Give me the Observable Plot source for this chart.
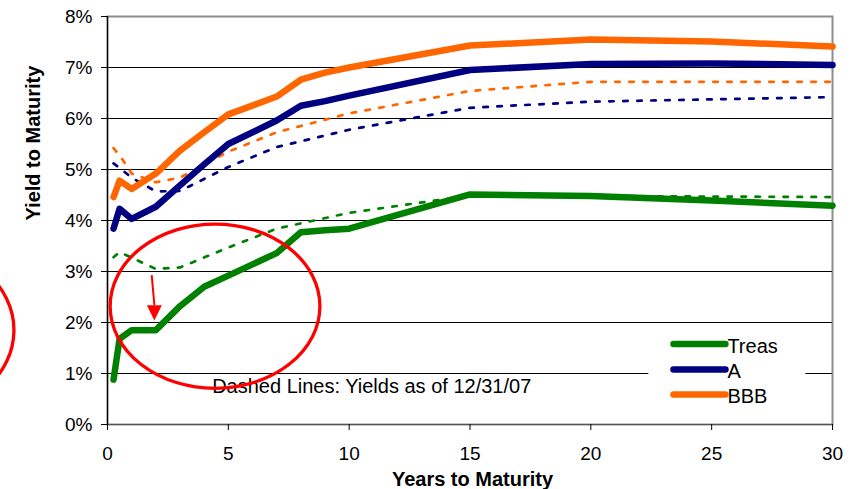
<!DOCTYPE html>
<html>
<head>
<meta charset="utf-8">
<script src="https://cdn.jsdelivr.net/npm/d3@7"></script>
<script src="https://cdn.jsdelivr.net/npm/@observablehq/plot@0.6"></script>
<style>
  html, body { margin: 0; padding: 0; background: #fff; }
</style>
</head>
<body>
<script>
// ---- Data ----
const seriesNames = ["Treas", "A", "BBB"];
const seriesColors = ["#008000", "#000080", "#FF6600"];

// current yields (solid)
const solidYears = [0.25, 0.5, 1, 2, 3, 4, 5, 7, 8, 9, 10, 15, 20, 25, 30];
const treasNow = [0.88, 1.68, 1.85, 1.85, 2.32, 2.70, 2.92, 3.36, 3.77, 3.81, 3.84, 4.51, 4.48, 4.39, 4.29];
const aNow     = [3.84, 4.23, 4.03, 4.27, 4.69, 5.10, 5.50, 5.96, 6.25, 6.34, 6.45, 6.95, 7.07, 7.08, 7.05];
const bbbNow   = [4.46, 4.78, 4.62, 4.92, 5.37, 5.73, 6.08, 6.43, 6.76, 6.90, 7.00, 7.43, 7.55, 7.51, 7.41];

// yields as of 12/31/07 (dashed)
const dashYears = [0.25, 0.5, 1, 2, 3, 5, 7, 10, 15, 20, 30];
const treas07 = [3.28, 3.38, 3.27, 3.05, 3.08, 3.47, 3.84, 4.15, 4.49, 4.48, 4.46];
const a07     = [5.12, 5.03, 4.84, 4.57, 4.58, 5.05, 5.44, 5.78, 6.21, 6.33, 6.42];
const bbb07   = [5.42, 5.28, 4.92, 4.75, 4.84, 5.35, 5.73, 6.10, 6.54, 6.72, 6.72];

const xTicks = [0, 5, 10, 15, 20, 25, 30];
const yTicks = [0, 1, 2, 3, 4, 5, 6, 7, 8];
const yTickLabels = ["0%", "1%", "2%", "3%", "4%", "5%", "6%", "7%", "8%"];

const xTitle = "Years to Maturity";
const yTitle = "Yield to Maturity";
const noteText = "Dashed Lines: Yields as of 12/31/07";

// annotation anchors (data units)
const notePos = {x: 4.33, y: 0.62};
const legendBox = {x1: 22.4, x2: 28.9, y1: 0.22, y2: 1.85};
const legendLineX = [23.42, 25.57];
const legendY = [1.58, 1.08, 0.59];
const legendTextX = 25.65;
const ellipses = [
  {cx: 4.47, cy: 2.31, rx: 4.34, ry: 1.61},
  {cx: -8.19, cy: 1.84, rx: 4.34, ry: 1.67}
];
const arrowPts = {x1: 1.85, y1: 2.92, x2: 1.96, y2: 2.03, headBase: 2.33, headHalfW: 0.31};

// ---- Build tables ----
const solidSets = [treasNow, aNow, bbbNow];
const dashSets = [treas07, a07, bbb07];
const solid = [], dashed = [];
seriesNames.forEach((name, i) => {
  solidYears.forEach((yr, j) => solid.push({series: name, years: yr, yld: solidSets[i][j]}));
  dashYears.forEach((yr, j) => dashed.push({series: name, years: yr, yld: dashSets[i][j]}));
});
const legendRows = seriesNames.map((name, i) => ({name, color: seriesColors[i], y: legendY[i]}));

const marks = [
  Plot.frame({stroke: "#8c8c8c", strokeWidth: 2}),
  Plot.ruleY(yTicks.slice(1, -1), {stroke: "#000", strokeWidth: 1}),
  Plot.rect([legendBox], {x1: "x1", x2: "x2", y1: "y1", y2: "y2", fill: "white"}),
  Plot.ruleX([0], {stroke: "#000", strokeWidth: 1.2}),
  Plot.ruleY([0], {stroke: "#555", strokeWidth: 1.2}),
  Plot.axisX({ticks: xTicks, tickSize: 6, tickPadding: 16, label: null, fontSize: 19}),
  Plot.axisY({ticks: yTicks, tickSize: 6, tickPadding: 9, label: null, fontSize: 19,
              tickFormat: d => yTickLabels[yTicks.indexOf(d)]}),
  ...seriesNames.map((name, i) =>
    Plot.line(dashed.filter(d => d.series === name), {
      x: "years", y: "yld", stroke: seriesColors[i], strokeWidth: 2.7,
      strokeDasharray: "4.5,9.5"
    })),
  ...seriesNames.map((name, i) =>
    Plot.line(solid.filter(d => d.series === name), {
      x: "years", y: "yld", stroke: seriesColors[i], strokeWidth: 6.5,
      strokeLinejoin: "round"
    })),
  Plot.text([noteText], {x: notePos.x, y: notePos.y, text: d => d, textAnchor: "start",
    lineAnchor: "bottom", fontSize: 20, fill: "#000"}),
  Plot.link(legendRows, {x1: legendLineX[0], x2: legendLineX[1], y1: "y", y2: "y",
    stroke: "color", strokeWidth: 6.5, strokeLinecap: "round"}),
  Plot.text(legendRows, {x: legendTextX, y: "y", text: "name", textAnchor: "start",
    lineAnchor: "middle", dy: 2.5, fontSize: 20, fill: "#000"}),
  Plot.text([xTitle], {frameAnchor: "bottom", text: d => d, dy: 61.7, dx: 2.5,
    lineAnchor: "bottom", fontSize: 20, fontWeight: "bold", fill: "#000"}),
  Plot.text([yTitle], {frameAnchor: "left", text: d => d, dx: -68, rotate: -90,
    lineAnchor: "bottom", fontSize: 20, fontWeight: "bold", fill: "#000"})
];

const svg = Plot.plot({
  width: 856, height: 489,
  marginLeft: 107, marginRight: 24, marginTop: 16, marginBottom: 65,
  x: {domain: [0, 30]},
  y: {domain: [0, 8]},
  style: {fontFamily: "'Liberation Sans', Arial, sans-serif", fontSize: "19px", background: "white", color: "#000", overflow: "hidden"},
  marks
});
document.body.append(svg);

// ---- Red annotations drawn through the plot's scales ----
const sx = svg.scale("x"), sy = svg.scale("y");
const X = v => sx.apply(v), Y = v => sy.apply(v);
const g = d3.select(svg).append("g").attr("fill", "none").attr("stroke", "#FF0000");
ellipses.forEach(e => {
  g.append("ellipse")
    .attr("cx", X(e.cx)).attr("cy", Y(e.cy))
    .attr("rx", X(e.cx + e.rx) - X(e.cx)).attr("ry", Y(e.cy - e.ry) - Y(e.cy))
    .attr("stroke-width", 3.3);
});
g.append("line")
  .attr("x1", X(arrowPts.x1)).attr("y1", Y(arrowPts.y1))
  .attr("x2", X(arrowPts.x2)).attr("y2", Y(arrowPts.headBase))
  .attr("stroke-width", 2);
g.append("path")
  .attr("d", `M${X(arrowPts.x2 - arrowPts.headHalfW)},${Y(arrowPts.headBase)}L${X(arrowPts.x2 + arrowPts.headHalfW)},${Y(arrowPts.headBase)}L${X(arrowPts.x2)},${Y(arrowPts.y2)}Z`)
  .attr("fill", "#FF0000").attr("stroke", "none");
</script>
</body>
</html>
